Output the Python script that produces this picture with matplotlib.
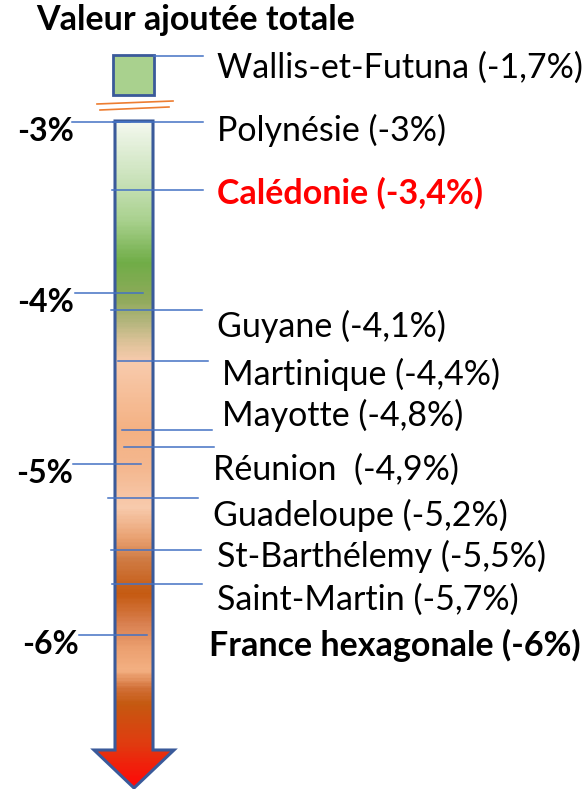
import numpy as np
import matplotlib
matplotlib.use("Agg")
import matplotlib.pyplot as plt
from matplotlib.colors import LinearSegmentedColormap
from matplotlib.patches import Polygon, Rectangle

plt.rcParams['font.family'] = ['Lato', 'DejaVu Sans']

# --- donnees ---
noms = ['Wallis-et-Futuna', 'Polynésie', 'Calédonie', 'Guyane', 'Martinique',
        'Mayotte', 'Réunion ', 'Guadeloupe', 'St-Barthélemy', 'Saint-Martin',
        'France hexagonale']
valeurs = [-1.7, -3.0, -3.4, -4.1, -4.4, -4.8, -4.9, -5.2, -5.5, -5.7, -6.0]
graduations = [-3, -4, -5, -6]

# --- mise en page (pixels) ---
K = 171.0          # pixels par point de %
Y3 = 122.0         # pixel de -3%

def pv(px):
    return -3 - (px - Y3) / K

texte_x = [217, 217, 217, 217, 222, 222, 213, 213, 217, 217, 209]
texte_dy = [12, 8, 3, 16, 13, -14, 23, 17, 7, 16, 10]
ligne_x0 = [154, 113, 112, 111, 118, 122, 124, 108, 111, 112, None]
ligne_x1 = [203, 203, 203, 202, 208, 212, 214, 198, 201, 202, None]
grad_x0 = [72, 75, 73, 79]
grad_x1 = [130, 143, 141, 147]
grad_tx = [46, 46, 45, 50]
BLEU = '#4472c4'
BORD = '#3a5a9a'
TAILLE = 24.5

fig = plt.figure(figsize=(5.88, 7.89), dpi=100)
ax = fig.add_axes([0, 0, 1, 1])
ax.set_xlim(0, 588)
ax.set_ylim(pv(789), pv(0))
ax.axis('off')

# thermometre / fleche avec degrade
stops = [(121, '#f4f8ef'), (185, '#c5e0b4'), (220, '#a9d18e'), (262, '#70ad47'),
         (300, '#90aa5c'), (322, '#b5b67e'), (345, '#e2c49c'), (362, '#f8cbad'),
         (430, '#f4b183'), (470, '#f4b890'), (508, '#f8cbad'), (540, '#e9a070'),
         (560, '#d07c45'), (595, '#c55a11'), (625, '#d98050'), (650, '#eca070'),
         (672, '#f4b183'), (690, '#d27038'), (705, '#c55a11'), (745, '#e03c10'),
         (788, '#ff0808')]
p0, p1 = stops[0][0], stops[-1][0]
cmap = LinearSegmentedColormap.from_list(
    'thermo', [((p - p0) / (p1 - p0), c) for p, c in stops])
grad = np.linspace(0, 1, 400).reshape(-1, 1)
im = ax.imshow(grad, cmap=cmap, aspect='auto', origin='upper',
               extent=[90, 178, pv(p1), pv(p0)], zorder=1)
fleche = Polygon([(115, pv(121)), (153, pv(121)), (153, pv(750)), (174, pv(750)),
                  (134, pv(788)), (94, pv(750)), (115, pv(750))],
                 closed=True, fc='none', ec=BORD, lw=2.2, zorder=3)
ax.add_patch(fleche)
im.set_clip_path(fleche)

# boite Wallis (hors echelle) et coupure
ax.add_patch(Rectangle((113, pv(95)), 41, pv(55) - pv(95), fc='#a9d18e',
                       ec=BORD, lw=2, zorder=3))
ax.plot([97, 173], [pv(104), pv(101)], color='#ed7d31', lw=1.2)
ax.plot([100, 169], [pv(110), pv(107)], color='#ed7d31', lw=1.2)

# graduations a gauche
for g, x0, x1, tx in zip(graduations, grad_x0, grad_x1, grad_tx):
    ax.plot([x0, x1], [g, g], color=BLEU, lw=1.1, zorder=4)
    ax.text(tx, g - 9 / K, f'{g}%', ha='center', va='center',
            fontsize=23, fontweight='bold')

# etiquettes
for i, (nom, v) in enumerate(zip(noms, valeurs)):
    y = pv(56) if i == 0 else v
    if ligne_x0[i] is not None:
        ax.plot([ligne_x0[i], ligne_x1[i]], [y, y], color=BLEU, lw=1.1, zorder=4)
    lab = f'{nom} ({v:g}%)'.replace('.', ',')
    couleur, poids = 'black', 'normal'
    if nom == 'Calédonie':
        couleur, poids = '#ff0000', 'bold'
    elif nom.startswith('France'):
        poids = 'bold'
    ax.text(texte_x[i], y - texte_dy[i] / K, lab, ha='left', va='center',
            fontsize=TAILLE, color=couleur, fontweight=poids)

ax.text(36, pv(20), 'Valeur ajoutée totale', ha='left', va='center',
        fontsize=24.5, fontweight='bold')

fig.savefig('out.png', dpi=100)
